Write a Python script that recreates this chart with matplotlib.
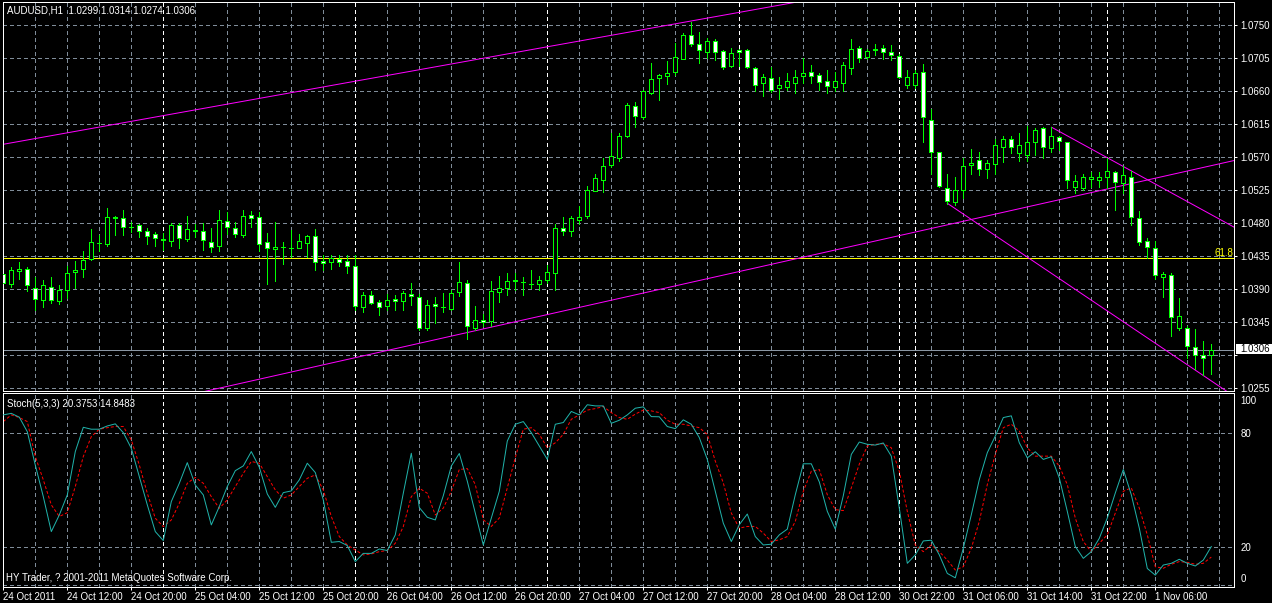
import matplotlib
matplotlib.use('Agg')
import matplotlib.pyplot as plt
from matplotlib.transforms import blended_transform_factory
from matplotlib.patches import Rectangle
import numpy as np

plt.rcParams['font.family'] = ['Liberation Sans', 'DejaVu Sans']

# ---------------- data ----------------
symbol_header = "AUDUSD,H1  1.0299 1.0314 1.0274 1.0306"
stoch_header = "Stoch(5,3,3) 20.3753 14.8483"
copyright_text = "HY Trader, ? 2001-2011 MetaQuotes Software Corp."

opens = [1.0410, 1.0396, 1.0414, 1.0417, 1.0391, 1.0375, 1.0392, 1.0373, 1.0388, 1.0413,
         1.0417, 1.0430, 1.0453, 1.0451, 1.0487, 1.0486, 1.0474, 1.0477, 1.0469, 1.0465,
         1.0458, 1.0455, 1.0477, 1.0458, 1.0470, 1.0469, 1.0454, 1.0448, 1.0482, 1.0473,
         1.0464, 1.0491, 1.0488, 1.0454, 1.0444, 1.0447, 1.0446, 1.0446, 1.0453, 1.0462,
         1.0428, 1.0427, 1.0431, 1.0428, 1.0421, 1.0365, 1.0381, 1.0372, 1.0366, 1.0376,
         1.0373, 1.0383, 1.0379, 1.0336, 1.0369, 1.0365, 1.0362, 1.0386, 1.0398, 1.0336,
         1.0348, 1.0346, 1.0386, 1.0391, 1.0402, 1.0399, 1.0397, 1.0396, 1.0402, 1.0412,
         1.0473, 1.0469, 1.0484, 1.0489, 1.0524, 1.0538, 1.0559, 1.0568, 1.0599, 1.0640,
         1.0624, 1.0657, 1.0677, 1.0680, 1.0686, 1.0704, 1.0736, 1.0724, 1.0713, 1.0728,
         1.0715, 1.0694, 1.0716, 1.0716, 1.0691, 1.0671, 1.0678, 1.0664, 1.0666, 1.0671,
         1.0680, 1.0686, 1.0682, 1.0673, 1.0665, 1.0671, 1.0691, 1.0719, 1.0706, 1.0716,
         1.0719, 1.0713, 1.0708, 1.0668, 1.0668, 1.0686, 1.0621, 1.0577, 1.0528, 1.0508,
         1.0525, 1.0559, 1.0566, 1.0553, 1.0560, 1.0584, 1.0595, 1.0575, 1.0572, 1.0591,
         1.0610, 1.0582, 1.0597, 1.0591, 1.0529, 1.0527, 1.0540, 1.0539, 1.0543, 1.0550,
         1.0535, 1.0543, 1.0487, 1.0455, 1.0446, 1.0406, 1.0409, 1.0336, 1.0337, 1.0311,
         1.0299, 1.0299]
highs = [1.0417, 1.0420, 1.0427, 1.0420, 1.0406, 1.0402, 1.0406, 1.0395, 1.0421, 1.0428,
         1.0442, 1.0471, 1.0464, 1.0500, 1.0489, 1.0498, 1.0481, 1.0478, 1.0473, 1.0467,
         1.0466, 1.0480, 1.0480, 1.0490, 1.0478, 1.0480, 1.0473, 1.0498, 1.0495, 1.0481,
         1.0498, 1.0496, 1.0495, 1.0466, 1.0481, 1.0454, 1.0470, 1.0465, 1.0464, 1.0471,
         1.0436, 1.0436, 1.0436, 1.0436, 1.0436, 1.0385, 1.0387, 1.0375, 1.0383, 1.0381,
         1.0387, 1.0398, 1.0383, 1.0375, 1.0379, 1.0384, 1.0388, 1.0427, 1.0402, 1.0366,
         1.0356, 1.0401, 1.0407, 1.0411, 1.0412, 1.0406, 1.0415, 1.0407, 1.0423, 1.0478,
         1.0488, 1.0489, 1.0503, 1.0530, 1.0546, 1.0569, 1.0603, 1.0603, 1.0644, 1.0645,
         1.0661, 1.0698, 1.0683, 1.0701, 1.0726, 1.0739, 1.0754, 1.0741, 1.0732, 1.0731,
         1.0716, 1.0719, 1.0717, 1.0717, 1.0693, 1.0683, 1.0693, 1.0679, 1.0685, 1.0688,
         1.0705, 1.0695, 1.0684, 1.0688, 1.0686, 1.0700, 1.0731, 1.0721, 1.0717, 1.0724,
         1.0723, 1.0723, 1.0710, 1.0688, 1.0689, 1.0697, 1.0635, 1.0577, 1.0547, 1.0543,
         1.0569, 1.0581, 1.0577, 1.0566, 1.0595, 1.0598, 1.0598, 1.0603, 1.0612, 1.0610,
         1.0611, 1.0611, 1.0598, 1.0591, 1.0545, 1.0547, 1.0549, 1.0550, 1.0568, 1.0551,
         1.0557, 1.0551, 1.0496, 1.0459, 1.0455, 1.0413, 1.0411, 1.0377, 1.0339, 1.0335,
         1.0319, 1.0314]
lows = [1.0388, 1.0393, 1.0404, 1.0387, 1.0361, 1.0365, 1.0370, 1.0369, 1.0378, 1.0391,
        1.0406, 1.0429, 1.0442, 1.0448, 1.0464, 1.0463, 1.0467, 1.0461, 1.0451, 1.0448,
        1.0443, 1.0448, 1.0445, 1.0455, 1.0461, 1.0443, 1.0440, 1.0442, 1.0465, 1.0461,
        1.0461, 1.0475, 1.0442, 1.0397, 1.0401, 1.0424, 1.0434, 1.0445, 1.0434, 1.0416,
        1.0415, 1.0417, 1.0421, 1.0412, 1.0361, 1.0358, 1.0369, 1.0354, 1.0361, 1.0361,
        1.0361, 1.0368, 1.0334, 1.0334, 1.0343, 1.0358, 1.0361, 1.0380, 1.0321, 1.0334,
        1.0339, 1.0339, 1.0372, 1.0382, 1.0389, 1.0381, 1.0391, 1.0388, 1.0398, 1.0388,
        1.0464, 1.0462, 1.0479, 1.0487, 1.0523, 1.0522, 1.0556, 1.0565, 1.0597, 1.0611,
        1.0622, 1.0656, 1.0647, 1.0670, 1.0682, 1.0703, 1.0721, 1.0698, 1.0705, 1.0702,
        1.0690, 1.0692, 1.0694, 1.0691, 1.0660, 1.0653, 1.0659, 1.0649, 1.0661, 1.0657,
        1.0671, 1.0671, 1.0661, 1.0657, 1.0660, 1.0660, 1.0683, 1.0699, 1.0704, 1.0709,
        1.0704, 1.0702, 1.0678, 1.0664, 1.0664, 1.0591, 1.0547, 1.0529, 1.0506, 1.0505,
        1.0514, 1.0546, 1.0545, 1.0541, 1.0546, 1.0563, 1.0575, 1.0565, 1.0565, 1.0572,
        1.0569, 1.0576, 1.0579, 1.0528, 1.0521, 1.0525, 1.0529, 1.0529, 1.0527, 1.0497,
        1.0521, 1.0477, 1.0450, 1.0432, 1.0403, 1.0379, 1.0326, 1.0334, 1.0296, 1.0280,
        1.0273, 1.0274]
closes = [1.0398, 1.0415, 1.0417, 1.0395, 1.0376, 1.0395, 1.0375, 1.0389, 1.0411, 1.0415,
          1.0429, 1.0454, 1.0452, 1.0488, 1.0488, 1.0474, 1.0475, 1.0469, 1.0462, 1.0459,
          1.0457, 1.0477, 1.0459, 1.0471, 1.0469, 1.0456, 1.0447, 1.0484, 1.0474, 1.0465,
          1.0490, 1.0486, 1.0451, 1.0445, 1.0447, 1.0447, 1.0445, 1.0455, 1.0462, 1.0426,
          1.0425, 1.0432, 1.0426, 1.0421, 1.0366, 1.0381, 1.0371, 1.0365, 1.0375, 1.0373,
          1.0384, 1.0380, 1.0336, 1.0368, 1.0366, 1.0365, 1.0384, 1.0399, 1.0339, 1.0348,
          1.0344, 1.0387, 1.0391, 1.0400, 1.0400, 1.0399, 1.0396, 1.0402, 1.0413, 1.0473,
          1.0469, 1.0486, 1.0488, 1.0525, 1.0541, 1.0558, 1.0571, 1.0599, 1.0641, 1.0626,
          1.0660, 1.0676, 1.0682, 1.0684, 1.0706, 1.0737, 1.0724, 1.0716, 1.0728, 1.0713,
          1.0692, 1.0712, 1.0713, 1.0693, 1.0668, 1.0679, 1.0661, 1.0668, 1.0674, 1.0679,
          1.0685, 1.0680, 1.0672, 1.0667, 1.0673, 1.0695, 1.0717, 1.0705, 1.0715, 1.0717,
          1.0713, 1.0709, 1.0679, 1.0679, 1.0685, 1.0625, 1.0576, 1.0530, 1.0510, 1.0525,
          1.0558, 1.0562, 1.0554, 1.0562, 1.0586, 1.0595, 1.0584, 1.0586, 1.0591, 1.0607,
          1.0584, 1.0599, 1.0592, 1.0538, 1.0537, 1.0542, 1.0543, 1.0543, 1.0551, 1.0536,
          1.0545, 1.0488, 1.0454, 1.0447, 1.0409, 1.0410, 1.0352, 1.0353, 1.0312, 1.0299,
          1.0296, 1.0306]

stoch_k = [89.3, 90.1, 88.1, 80.5, 63.0, 46.5, 28.2, 36.9, 47.4, 70.1,
           82.8, 81.8, 81.8, 83.5, 84.6, 80.0, 71.8, 57.0, 42.2, 28.2,
           23.5, 43.9, 53.5, 64.3, 52.6, 47.4, 31.7, 41.3, 51.8, 60.1,
           62.6, 70.1, 61.9, 47.9, 40.9, 48.6, 49.5, 55.3, 64.0, 59.1,
           44.8, 22.6, 23.0, 20.9, 12.5, 16.8, 16.8, 19.1, 18.3, 26.5,
           48.3, 69.2, 40.8, 35.7, 34.3, 47.0, 62.5, 69.1, 54.6, 37.9,
           21.2, 35.3, 49.3, 75.6, 84.4, 85.8, 80.0, 73.0, 66.0, 84.4,
           85.3, 91.1, 89.3, 94.6, 94.0, 94.0, 84.9, 86.5, 89.3, 92.8,
           93.5, 88.4, 88.3, 83.2, 82.1, 86.7, 84.4, 77.4, 66.0, 49.3,
           32.6, 23.0, 31.8, 37.4, 25.6, 21.2, 21.6, 26.5, 29.5, 47.5,
           63.7, 63.7, 54.2, 38.8, 29.5, 47.0, 68.6, 75.1, 73.9, 73.5,
           74.6, 67.7, 40.5, 11.6, 16.0, 23.3, 23.7, 16.0, 6.3, 4.0,
           19.5, 37.0, 55.4, 69.5, 78.2, 87.9, 88.8, 74.7, 66.8, 70.0,
           66.0, 67.4, 56.3, 38.8, 20.4, 14.2, 17.7, 24.7, 35.3, 48.4,
           60.7, 47.5, 30.0, 8.9, 5.4, 10.7, 11.6, 13.7, 11.6, 10.2,
           13.3, 20.38]
stoch_d = [85.8, 89.3, 87.9, 85.8, 67.5, 55.3, 42.2, 36.1, 38.1, 51.8,
           67.5, 77.9, 81.8, 82.6, 83.2, 83.2, 76.2, 63.1, 48.3, 35.2,
           30.8, 34.3, 43.0, 53.5, 56.6, 53.5, 46.5, 40.4, 44.8, 51.8,
           58.7, 64.9, 64.0, 57.0, 50.0, 45.7, 47.4, 51.8, 56.1, 57.9,
           50.0, 36.1, 25.6, 21.2, 18.6, 16.0, 16.5, 17.7, 18.3, 22.1,
           30.8, 46.5, 50.9, 48.3, 36.9, 40.5, 49.3, 60.7, 61.2, 52.8,
           34.4, 30.9, 35.3, 51.1, 66.9, 81.8, 82.6, 79.1, 72.1, 74.7,
           79.1, 87.0, 89.3, 91.8, 92.6, 93.7, 90.5, 87.9, 87.0, 89.7,
           91.8, 91.4, 90.5, 86.5, 84.4, 84.4, 83.5, 82.6, 79.1, 65.1,
           53.7, 37.9, 30.0, 30.9, 30.9, 27.4, 23.0, 23.9, 25.6, 33.5,
           49.3, 59.8, 60.7, 47.5, 39.7, 39.2, 51.1, 63.5, 73.0, 73.9,
           74.2, 72.1, 59.8, 38.8, 21.2, 17.7, 21.2, 17.7, 13.3, 8.1,
           9.8, 19.5, 33.5, 52.8, 68.6, 82.6, 84.4, 80.9, 72.1, 67.7,
           67.7, 67.7, 62.5, 52.8, 35.3, 23.0, 17.7, 22.1, 26.5, 37.9,
           49.3, 51.1, 40.5, 26.5, 9.8, 9.0, 11.1, 12.5, 12.1, 11.1,
           11.6, 14.85]

time_label_bars = [0, 8, 16, 24, 32, 40, 48, 56, 64, 72, 80, 88, 96, 104, 112, 120, 128, 136, 144]
time_labels = ["24 Oct 2011", "24 Oct 12:00", "24 Oct 20:00", "25 Oct 04:00", "25 Oct 12:00",
               "25 Oct 20:00", "26 Oct 04:00", "26 Oct 12:00", "26 Oct 20:00", "27 Oct 04:00",
               "27 Oct 12:00", "27 Oct 20:00", "28 Oct 04:00", "28 Oct 12:00", "30 Oct 22:00",
               "31 Oct 06:00", "31 Oct 14:00", "31 Oct 22:00", "1 Nov 06:00"]
day_separator_bars = [20, 44, 68, 92, 112, 114, 138]
price_ticks = [1.0750, 1.0705, 1.0660, 1.0615, 1.0570, 1.0525, 1.0480, 1.0435, 1.0390, 1.0345, 1.0300, 1.0255]
bid_price = 1.0306
fib_level = 1.0432
fib_label = "61.8"

# trend lines: (bar index, price) anchor pairs
up_channel_top = [(9.96, 1.06067), (86.2, 1.07559)]
up_channel_bottom = [(54.2, 1.03210), (153.75, 1.05648)]
down_channel_top = [(131.05, 1.06104), (153.75, 1.04747)]
down_channel_bottom = [(118.0, 1.05067), (152.7, 1.02518)]

# ---------------- figure ----------------
W, H = 1272, 603
fig = plt.figure(figsize=(W / 100, H / 100), dpi=100, facecolor='black')

def fx(px):
    return px / W

def fy(py):
    return 1 - py / H

L, R = 2.7, 1234.3
ax = fig.add_axes([fx(L), fy(391), (R - L) / W, (391 - 1.7) / H])
ax2 = fig.add_axes([fx(L), fy(587), (R - L) / W, (587 - 393.3) / H])

xmin, xmax = -0.075, 153.875
LW = 0.72
GRID = '#7f8c99'
LIME = '#00FF00'
FS = 7

for a in (ax, ax2):
    a.set_facecolor('black')
    a.set_xlim(xmin, xmax)
    for s in a.spines.values():
        s.set_color('white')
        s.set_linewidth(LW)

ax.set_ylim(1.02505, 1.07818)
ax2.set_ylim(-0.8, 100.6)

n = len(opens)
xs = np.arange(n)
o = np.array(opens); h = np.array(highs); l = np.array(lows); c = np.array(closes)

# grid
for b in range(4, 154, 4):
    if b in day_separator_bars:
        continue
    for a in (ax, ax2):
        a.axvline(b, color=GRID, lw=LW, ls=(0, (3, 3)), zorder=0.5, antialiased=False)
for b in day_separator_bars:
    for a in (ax, ax2):
        a.axvline(b, color='white', lw=LW, ls=(0, (3, 3)), zorder=0.6, antialiased=False)
for p in price_ticks:
    ax.axhline(p, color=GRID, lw=LW, ls=(0, (3, 3)), zorder=0.5, antialiased=False)
for v in [0, 20, 80]:
    ax2.axhline(v, color=GRID, lw=LW, ls=(0, (3, 3)), zorder=0.5, antialiased=False)

# horizontal levels
ax.axhline(fib_level, color='#FFFF00', lw=LW, zorder=1, antialiased=False)
ax.axhline(bid_price, color='#8a96a3', lw=LW, zorder=1, antialiased=False)

# trend lines (rays, clipped by axes)
def draw_line(anchors, start=None):
    (x0, y0), (x1, y1) = anchors
    slope = (y1 - y0) / (x1 - x0)
    xa = xmin - 1 if start is None else start
    xb = xmax + 1
    ax.plot([xa, xb], [y0 + slope * (xa - x0), y0 + slope * (xb - x0)],
            color='#FF00FF', lw=LW, zorder=1.5)

draw_line(up_channel_top)
draw_line(up_channel_bottom)
draw_line(down_channel_top, start=down_channel_top[0][0])
draw_line(down_channel_bottom, start=down_channel_bottom[0][0])

# candles
ax.vlines(xs, l, h, color=LIME, lw=LW, zorder=2, antialiased=False)
body_bottom = np.minimum(o, c)
body_height = np.abs(c - o)
face = ['white' if cc < oo else 'black' for oo, cc in zip(o, c)]
ax.bar(xs, body_height, bottom=body_bottom, width=0.5, color=face,
       edgecolor=LIME, linewidth=LW, zorder=3, antialiased=False)

# stochastic
ax2.plot(xs, stoch_k, color='#20B2AA', lw=LW, zorder=3)
ax2.plot(xs, stoch_d, color='#FF0000', lw=LW, ls=(0, (3, 2)), zorder=2)

# axes ticks (the 1.0300 label sits under the bid-price box, as in the reference)
ax.set_xticks([])
ax.yaxis.tick_right()
ax.set_yticks(price_ticks)
ax.set_yticklabels(['' if abs(p - 1.0300) < 1e-9 else '%.4f' % p for p in price_ticks])
ax.tick_params(axis='y', colors='white', length=2, width=LW, pad=2.5, labelsize=FS)

ax2.yaxis.tick_right()
ax2.set_yticks([20, 80])
ax2.set_yticklabels(['20', '80'])
ax2.tick_params(axis='y', colors='white', length=0, pad=4.5, labelsize=FS)
tr = blended_transform_factory(ax2.transAxes, ax2.transData)
xoff = 1.0 + 6.0 / (R - L)
ax2.text(xoff, 96.8, '100', transform=tr, color='white', fontsize=FS, va='center', ha='left')
ax2.text(xoff, 3.2, '0', transform=tr, color='white', fontsize=FS, va='center', ha='left')

ax2.set_xticks(time_label_bars)
ax2.set_xticklabels(time_labels)
for lbl in ax2.get_xticklabels():
    lbl.set_ha('left')
ax2.tick_params(axis='x', colors='white', length=2.5, width=LW, pad=1.2, labelsize=FS)

# texts
fig.text(fx(7.3), fy(10.7), symbol_header, color='white', fontsize=FS, va='center', ha='left')
fig.text(fx(7.3), fy(404), stoch_header, color='white', fontsize=FS, va='center', ha='left')
fig.text(fx(6.3), fy(578.3), copyright_text, color='white', fontsize=FS, va='center', ha='left')
fig.text(fx(1233), fy(252.5), fib_label, color='#FFFF00', fontsize=FS, va='center', ha='right')

# bid price box
fig.patches.append(Rectangle((fx(1236), fy(354.3)), (1272 - 1236) / W, 10 / H,
                             transform=fig.transFigure, facecolor='white', edgecolor='none', zorder=5))
fig.text(fx(1240), fy(349.3), '%.4f' % bid_price, color='black', fontsize=FS,
         va='center', ha='left', zorder=6)

fig.savefig('out.png', dpi=100, facecolor='black')
